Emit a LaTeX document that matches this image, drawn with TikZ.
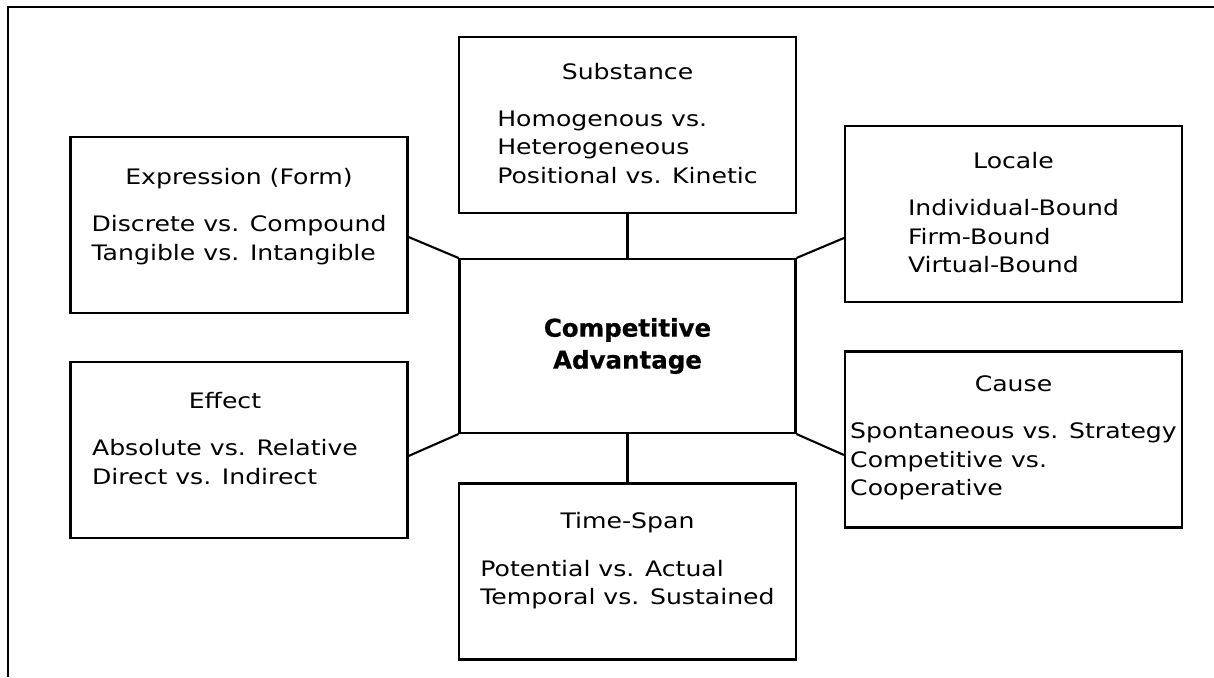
\documentclass[tikz,border=0pt]{standalone}
\usepackage{fontspec}
\newfontfamily\boxfont{DejaVu Sans}[FakeStretch=1.18]
\newfontfamily\corefont{DejaVu Sans Bold}[FakeBold=0.6]
\usetikzlibrary{positioning}

\begin{document}
\begin{tikzpicture}[x=1pt,y=-1pt,
    dim/.style={draw,line width=2.1pt,minimum width=337pt,minimum height=176pt,inner sep=0},
    head/.style={font=\boxfont\fontsize{21.3}{28.5}\selectfont,inner sep=0},
    list/.style={font=\boxfont\fontsize{21.3}{28.5}\selectfont,align=left,inner sep=0},
    link/.style={line width=2.1pt}
]

\useasboundingbox (0,0) rectangle (1214,677);
\draw[line width=2pt] (8,677) -- (8,7) -- (1214,7);

\node[dim,minimum width=336pt,minimum height=174pt,align=center,
    font=\corefont\fontsize{24.5}{32}\selectfont] (core) at (627.5,346) {Competitive\\Advantage};

\node[dim] (subst) at (627.5,125) {};
\node[dim] (expr) at (239,225) {};
\node[dim] (locale) at (1013.5,214) {};
\node[dim] (cause) at (1013.5,439.5) {};
\node[dim] (effect) at (239,450) {};
\node[dim] (span) at (627.5,571.5) {};

\node[head,below=43.5pt of subst.north,anchor=base] (substH) {Substance};
\node[list,below=31pt of substH.base] (substL) {Homogenous vs.\\Heterogeneous\\Positional vs. Kinetic};

\node[head,below=48.5pt of expr.north,anchor=base] (exprH) {Expression (Form)};
\node[list,below=31pt of exprH.base] (exprL) {Discrete vs. Compound\\Tangible vs. Intangible};

\node[head,below=43.5pt of locale.north,anchor=base] (localeH) {Locale};
\node[list,below=31pt of localeH.base] (localeL) {Individual-Bound\\Firm-Bound\\Virtual-Bound};

\node[head,below=41.5pt of cause.north,anchor=base] (causeH) {Cause};
\node[list,below=31pt of causeH.base] (causeL) {Spontaneous vs. Strategy\\Competitive vs.\\Cooperative};

\node[head,below=47.5pt of effect.north,anchor=base,xshift=-14pt] (effectH) {Effect};
\node[list,below=31pt of effectH.base] (effectL) {Absolute vs. Relative\\Direct vs. Indirect};

\node[head,below=46.5pt of span.north,anchor=base] (spanH) {Time-Span};
\node[list,below=31pt of spanH.base] (spanL) {Potential vs. Actual\\Temporal vs. Sustained};

% spokes to the centre
\draw[link] (subst.south) -- (core.north);
\draw[link] (span.north) -- (core.south);
\draw[link] ([yshift=-12pt]expr.east) -- (core.north west);
\draw[link] ([yshift=-6pt]effect.east) -- (core.south west);
\draw[link] ([yshift=-24pt]locale.west) -- (core.north east);
\draw[link] ([yshift=-15.5pt]cause.west) -- (core.south east);

\end{tikzpicture}
\end{document}
